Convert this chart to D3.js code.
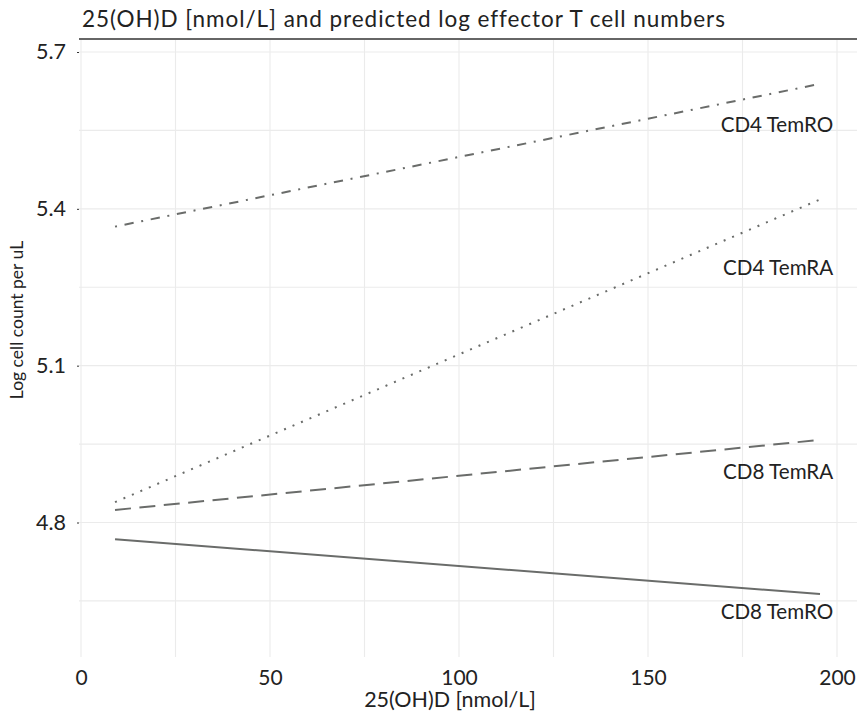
<!DOCTYPE html>
<html>
<head>
<meta charset="utf-8">
<script src="https://cdn.jsdelivr.net/npm/d3@7"></script>
<style>
  body { margin: 0; background: #fff; }
  text { font-family: Lato, "Open Sans", sans-serif; fill: #222; }
</style>
</head>
<body>
<div id="chart"></div>
<script>
// predicted values at both ends of the 25(OH)D range
const doseRange = [9, 195.5];
const seriesNames = ["CD4 TemRO", "CD4 TemRA", "CD8 TemRA", "CD8 TemRO"];
const cd4TemRO = [5.366, 5.639];
const cd4TemRA = [4.839, 5.418];
const cd8TemRA = [4.824, 4.958];
const cd8TemRO = [4.768, 4.663];
const labelValues = [5.562, 5.287, 4.898, 4.630];

const xTicks = [0, 50, 100, 150, 200];
const xMinor = [25, 75, 125, 175];
const yTicks = [4.8, 5.1, 5.4, 5.7];
const yMinor = [4.65, 4.95, 5.25, 5.55];

const LINE_STYLES = {
  "CD4 TemRO": "2 7.7 9.3 7.7",
  "CD4 TemRA": "2 7.2",
  "CD8 TemRA": "16 8.5",
  "CD8 TemRO": null,
};

const width = 857;
const height = 712;
const panel = { left: 79, right: 857, top: 39, bottom: 657 };

const x = d3.scaleLinear().domain([0, 200]).range([81, 837]);
const y = d3.scaleLinear().domain([4.8, 5.7]).range([522.5, 52]);

const svg = d3
  .select("#chart")
  .append("svg")
  .attr("width", width)
  .attr("height", height);

const grid = svg.append("g").attr("class", "grid");

grid
  .selectAll("line.vgrid")
  .data(xTicks.concat(xMinor))
  .join("line")
  .attr("class", "vgrid")
  .attr("x1", (d) => x(d))
  .attr("x2", (d) => x(d))
  .attr("y1", panel.top)
  .attr("y2", panel.bottom)
  .attr("stroke", "#ebebeb")
  .attr("stroke-width", 1.1);

grid
  .selectAll("line.hgrid")
  .data(yTicks.concat(yMinor))
  .join("line")
  .attr("class", "hgrid")
  .attr("x1", panel.left)
  .attr("x2", panel.right)
  .attr("y1", (d) => y(d))
  .attr("y2", (d) => y(d))
  .attr("stroke", "#ebebeb")
  .attr("stroke-width", 1.1);

// title with rule below it
svg
  .append("text")
  .attr("x", 82)
  .attr("y", 26.5)
  .attr("font-size", 22.5)
  .attr("letter-spacing", 0.95)
  .text("25(OH)D [nmol/L] and predicted log effector T cell numbers");

svg
  .append("line")
  .attr("x1", panel.left)
  .attr("x2", panel.right)
  .attr("y1", 39)
  .attr("y2", 39)
  .attr("stroke", "#666")
  .attr("stroke-width", 2);

// axes
const yAxis = svg
  .append("g")
  .attr("transform", `translate(${panel.left},0)`)
  .call(d3.axisLeft(y).tickValues(yTicks).tickSize(2).tickPadding(11).tickFormat(d3.format(".1f")));
yAxis.select(".domain").remove();
yAxis.selectAll(".tick line").attr("stroke", "#333");
yAxis.selectAll(".tick text").attr("font-size", 21.5).attr("fill", "#222").attr("font-family", "Lato");

const xAxis = svg
  .append("g")
  .attr("transform", `translate(0,${panel.bottom})`)
  .call(d3.axisBottom(x).tickValues(xTicks).tickSize(0).tickPadding(13).tickFormat(d3.format("d")));
xAxis.select(".domain").remove();
xAxis.selectAll(".tick text").attr("font-size", 21).attr("fill", "#222").attr("font-family", "Lato");

svg
  .append("text")
  .attr("x", 450)
  .attr("y", 706.5)
  .attr("text-anchor", "middle")
  .attr("font-size", 21.5)
  .text("25(OH)D [nmol/L]");

svg
  .append("text")
  .attr("transform", "translate(23,320) rotate(-90)")
  .attr("text-anchor", "middle")
  .attr("font-size", 17.5)
  .text("Log cell count per uL");

// lines
const seriesValues = [cd4TemRO, cd4TemRA, cd8TemRA, cd8TemRO];
const series = seriesNames.map((name, i) => ({
  name,
  points: doseRange.map((dose, j) => [dose, seriesValues[i][j]]),
  label: labelValues[i],
}));

const line = d3
  .line()
  .x((d) => x(d[0]))
  .y((d) => y(d[1]));

svg
  .append("g")
  .selectAll("path")
  .data(series)
  .join("path")
  .attr("fill", "none")
  .attr("stroke", "#6a6c6a")
  .attr("stroke-width", 2)
  .attr("stroke-dasharray", (d) => LINE_STYLES[d.name])
  .attr("d", (d) => line(d.points));

svg
  .append("g")
  .selectAll("text")
  .data(series)
  .join("text")
  .attr("x", x(199))
  .attr("y", (d) => y(d.label))
  .attr("dy", "0.36em")
  .attr("text-anchor", "end")
  .attr("font-size", 20.6)
  .text((d) => d.name);
</script>
</body>
</html>
